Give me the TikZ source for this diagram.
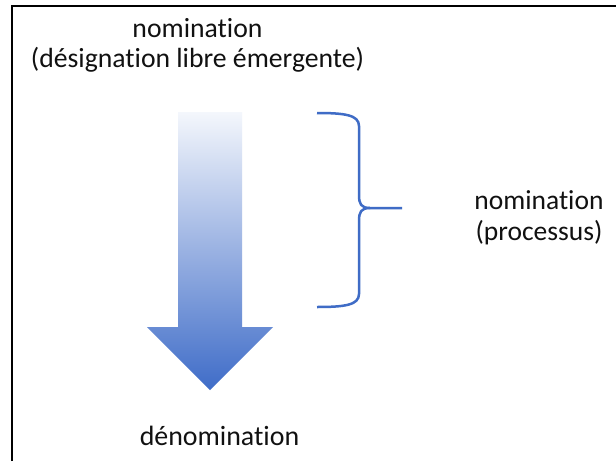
\documentclass[tikz,border=0pt]{standalone}
\usepackage{fontspec}
\setmainfont{Carlito}[Ligatures={NoCommon}]
\definecolor{bracecol}{HTML}{3F6CC6}
\definecolor{arrowtop}{HTML}{F4F7FC}
\definecolor{arrowbot}{HTML}{3F6CC8}
\definecolor{txt}{HTML}{111111}
\tikzset{
  lbl/.style={inner sep=0pt, text=txt, align=center, anchor=base},
  frame/.style={draw=black, line width=2pt},
  bracestyle/.style={draw=bracecol, line width=2.5pt, line join=round},
}
\begin{document}
\begin{tikzpicture}[x=1pt,y=-1pt]
\useasboundingbox (0,0) rectangle (616,461);
\fill[white] (0,0) rectangle (616,461);
% frame (left and top edges)
\draw[frame] (11.5,461) -- (11.5,5.5) -- (616,5.5);
% shaded arrow
\shade[top color=arrowtop, bottom color=arrowbot]
  (178,112) -- (242,112) -- (242,327) -- (273,327) -- (210,390)
  -- (147,327) -- (178,327) -- cycle;
% brace
\coordinate (btop) at (317,113);
\coordinate (bbot) at (317,307);
\coordinate (btip) at (402,208);
\draw[bracestyle] (btop) .. controls (345,113) and (359,115) .. (359,126)
  -- (359,195) .. controls (359,204) and (361,208) .. (370,208) -- (btip);
\draw[bracestyle] (bbot) .. controls (345,307) and (359,305) .. (359,294)
  -- (359,221) .. controls (359,212) and (361,208) .. (370,208);
% texts (base anchor = baseline of the last line)
\node[lbl, font=\fontsize{27.7}{29.5}\selectfont] (top) at (197.5,67)
  {nomination\\(désignation libre émergente)};
\node[lbl, font=\fontsize{27.5}{31}\selectfont] (proc) at (539,240)
  {nomination\\(processus)};
\node[lbl, font=\fontsize{27.9}{30}\selectfont] (den) at (219.5,445)
  {dénomination};
\end{tikzpicture}
\end{document}
